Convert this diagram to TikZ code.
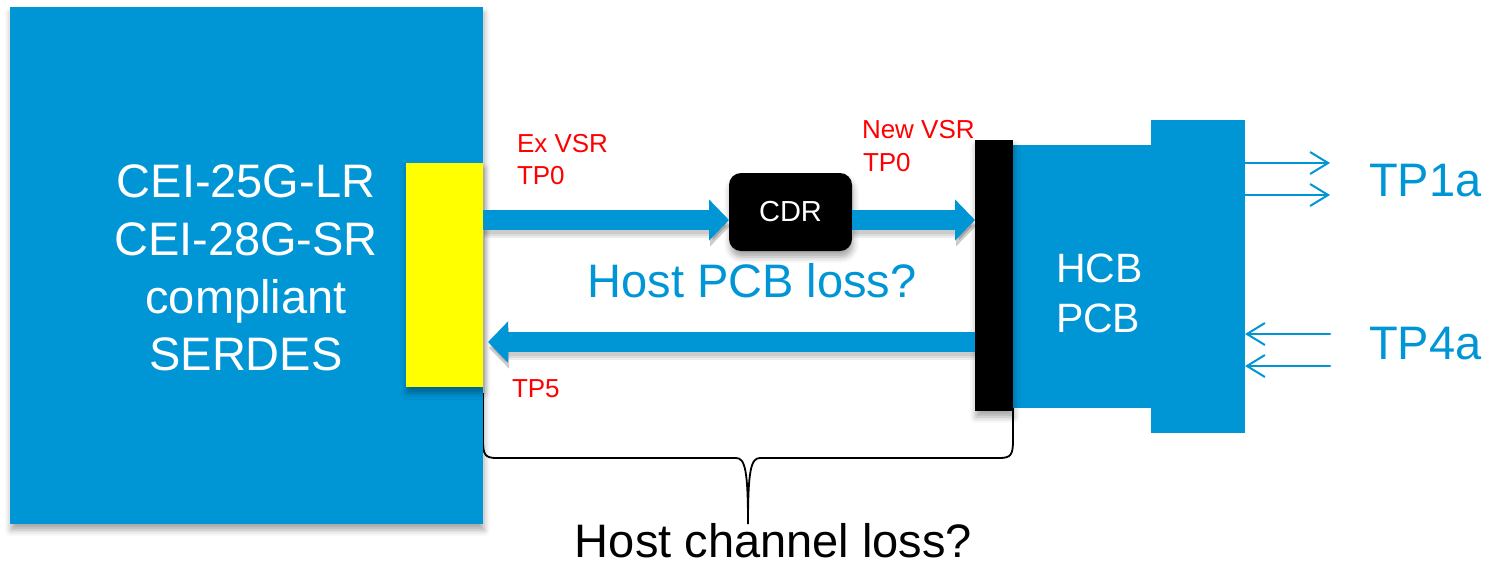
\documentclass[tikz,border=0pt]{standalone}
\usepackage{fontspec}
\setmainfont{Liberation Sans}
\usetikzlibrary{arrows.meta,shadows.blur,calc}
\definecolor{pcbblue}{RGB}{0,150,214}
\definecolor{tpred}{RGB}{255,0,0}
\definecolor{padyellow}{RGB}{255,255,0}

\begin{document}
\begin{tikzpicture}[x=1pt,y=-1pt,
  box/.style={anchor=north west, inner sep=0pt, outer sep=0pt, draw=none},
  soft/.style={blur shadow={shadow xshift=1pt, shadow yshift=-6pt,
      shadow blur radius=6pt, shadow opacity=35}},
  lane/.style={pcbblue, line width=20pt, -{Triangle[length=20pt,width=40pt]}},
  laneshade/.style={black, opacity=0.07, line width=#1,
      -{Triangle[length=20pt,width=40pt]},
      transform canvas={shift={(1pt,-6pt)}}},
  wire/.style={pcbblue, line width=2pt, line cap=round,
      -{Straight Barb[length=18pt,width=22pt,line width=2pt]}},
  lbl/.style={anchor=base west, inner sep=0pt, outer sep=0pt},
  clbl/.style={anchor=base, inner sep=0pt, outer sep=0pt},
  big/.style={font=\fontsize{47}{57}\selectfont},
  tp/.style={lbl, text=tpred, font=\fontsize{26}{32}\selectfont},
]
\useasboundingbox (0,0) rectangle (1493,563);

% brace under the host channel
\coordinate (braceL) at (483,393);
\coordinate (braceR) at (1013,393);
\coordinate (braceTip) at (748,524);
\draw[black, line width=1.8pt]
  (braceL) -- (483,440) .. controls (483,455) and (485,458) .. (497,458)
  -- (736,458) .. controls (745,458) and (748,470) .. (braceTip)
  .. controls (748,470) and (751,458) .. (760,458)
  -- (999,458) .. controls (1011,458) and (1013,455) .. (1013,440) -- (braceR);

% SERDES block and its pad
\node[box, soft, fill=pcbblue, minimum width=473pt, minimum height=517pt] (serdes) at (10,7) {};
\node[box, soft, fill=padyellow, minimum width=77pt, minimum height=224pt] (yellow) at (406,163) {};
\node[clbl, big, text=white] (s1) at (246,197) {CEI-25G-LR};
\node[clbl, big, text=white] (s2) at (246,255) {CEI-28G-SR};
\node[clbl, big, text=white] (s3) at (246,313) {compliant};
\node[clbl, big, text=white] (s4) at (246,370) {SERDES};

% CDR
\node[box, soft, fill=black, rounded corners=12pt, minimum width=123pt, minimum height=78pt] (cdr) at (729,173) {};
\node[text=white, font=\fontsize{29}{34}\selectfont, inner sep=0pt] (cdrtxt) at (cdr.center) {CDR};

% host card
\node[box, fill=pcbblue, minimum width=140pt, minimum height=263pt] (hcb) at (1011,145) {};
\node[box, fill=pcbblue, minimum width=94pt, minimum height=313pt] (hcbR) at (1151,120) {};
\node[box, soft, fill=black, minimum width=38pt, minimum height=271pt] (bar) at (975,140) {};
\node[lbl, text=white, font=\fontsize{41}{50}\selectfont] (h1) at (1056,282) {HCB};
\node[lbl, text=white, font=\fontsize{41}{50}\selectfont] (h2) at (1056,332) {PCB};

% lanes, each with a faint shadow underneath
\coordinate (txlane) at (483,220);
\coordinate (tp5tip) at (488,342);
\foreach \w in {16pt,20pt,24pt} {
  \draw[laneshade=\w] (yellow.east |- txlane) -- (cdr.west |- txlane);
  \draw[laneshade=\w] (cdr.east |- txlane) -- (bar.west |- txlane);
  \draw[laneshade=\w] (bar.west |- tp5tip) -- (tp5tip);
}
\draw[lane] (yellow.east |- txlane) -- (cdr.west |- txlane);
\draw[lane] (cdr.east |- txlane) -- (bar.west |- txlane);
\draw[lane] (bar.west |- tp5tip) -- (tp5tip);

% module pins
\coordinate (o1) at (1330,163);
\coordinate (o2) at (1330,195);
\coordinate (i1) at (1330,334);
\coordinate (i2) at (1330,366);
\draw[wire] (o1 -| hcbR.east) -- (o1);
\draw[wire] (o2 -| hcbR.east) -- (o2);
\draw[wire] (i1) -- (i1 -| hcbR.east);
\draw[wire] (i2) -- (i2 -| hcbR.east);

% labels
\node[tp] (ex1) at (517,152) {Ex VSR};
\node[tp] (ex2) at (517,184) {TP0};
\node[tp] (nw1) at (862,138) {New VSR};
\node[tp] (nw2) at (863,171) {TP0};
\node[tp] (tp5) at (512,397) {TP5};
\node[clbl, big, text=pcbblue] (pcbloss) at (752,297) {Host PCB loss?};
\node[lbl, big, text=pcbblue] (tp1a) at (1369,196) {TP1a};
\node[lbl, big, text=pcbblue] (tp4a) at (1369,359) {TP4a};
\node[clbl, big, text=black] (chloss) at (773.5,557) {Host channel loss?};
\end{tikzpicture}
\end{document}
